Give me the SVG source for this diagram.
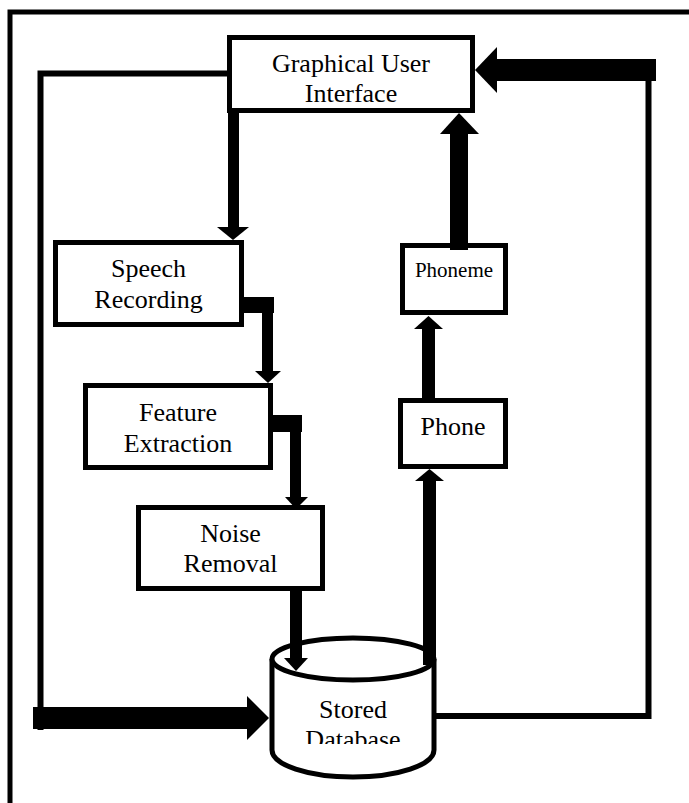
<svg xmlns="http://www.w3.org/2000/svg" width="689" height="803" viewBox="0 0 689 803">
<style>
.box{fill:#fff;stroke:#000;stroke-width:5}
.t{font-family:"Liberation Serif","Times New Roman",serif;font-size:26px;text-anchor:middle;fill:#000}
.ts{font-size:21px}
.a{fill:#000;stroke:none}
.ln{fill:none;stroke:#000;stroke-width:6;stroke-linecap:square}
.frame{fill:none;stroke:#000;stroke-width:5}
</style>
<defs>
<clipPath id="dbclip"><rect x="270" y="600" width="170" height="144"/></clipPath>
</defs>
<rect width="689" height="803" fill="#fff"/>
<rect class="frame" x="10" y="12" width="720" height="820"/>

<g id="gui">
<rect class="box" x="229.5" y="37.5" width="243" height="73"/>
<text class="t" x="351" y="72">Graphical User</text>
<text class="t" x="351" y="102">Interface</text>
</g>
<g id="speech">
<rect class="box" x="55.5" y="242.5" width="186" height="82"/>
<text class="t" x="148.5" y="277">Speech</text>
<text class="t" x="148.5" y="308">Recording</text>
</g>
<g id="feature">
<rect class="box" x="85.5" y="385.5" width="185" height="82"/>
<text class="t" x="178" y="421">Feature</text>
<text class="t" x="178" y="452">Extraction</text>
</g>
<g id="noise">
<rect class="box" x="138.5" y="507.5" width="184" height="81"/>
<text class="t" x="230.5" y="542">Noise</text>
<text class="t" x="230.5" y="572">Removal</text>
</g>
<g id="phoneme">
<rect class="box" x="402.5" y="245.5" width="103" height="67"/>
<text class="t ts" x="454" y="277">Phoneme</text>
</g>
<g id="phone">
<rect class="box" x="400.5" y="400.5" width="105" height="66"/>
<text class="t" x="453" y="435">Phone</text>
</g>
<g id="database">
<path class="box" d="M272,659 L272,750 A81,27 0 0 0 434,750 L434,659"/>
<ellipse class="box" cx="353" cy="659" rx="81" ry="21"/>
<g clip-path="url(#dbclip)">
<text class="t" x="353" y="718">Stored</text>
<text class="t" x="353" y="748">Database</text>
</g>
</g>

<g id="connectors">
<path class="ln" d="M228,73.5 H40.5 V727"/>
<rect class="a" x="33" y="707" width="215" height="22"/>
<polygon class="a" points="247,696 269,718 247,740"/>
<path class="ln" d="M436,716 H648.5 V81"/>
<rect class="a" x="496" y="59" width="160" height="22"/>
<polygon class="a" points="497,47 475,70 497,93"/>
<rect class="a" x="228" y="110" width="11" height="118"/>
<polygon class="a" points="217,227 233,240 249,227"/>
<rect class="a" x="241" y="297" width="33" height="16"/>
<rect class="a" x="262" y="297" width="11" height="75"/>
<polygon class="a" points="255,371 268,383 281,371"/>
<rect class="a" x="270" y="415" width="32" height="17"/>
<rect class="a" x="290" y="415" width="11" height="83"/>
<polygon class="a" points="285,497 296,509 308,497"/>
<rect class="a" x="290" y="588" width="12" height="71"/>
<polygon class="a" points="284,658 296,671 308,658"/>
<rect class="a" x="450" y="133" width="18" height="117"/>
<polygon class="a" points="440,134 459,113 479,134"/>
<rect class="a" x="422" y="328" width="13" height="72"/>
<polygon class="a" points="414,329 428.5,316 443,329"/>
<rect class="a" x="423" y="480" width="13" height="185"/>
<polygon class="a" points="415,481 429.5,469 444,481"/>
</g>
</svg>
